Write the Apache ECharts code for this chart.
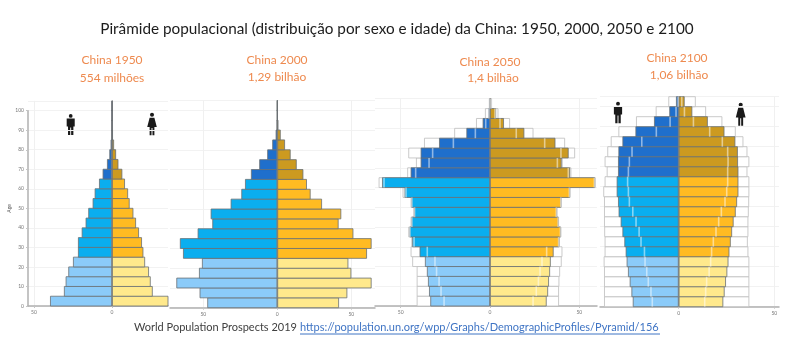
<!DOCTYPE html>
<html>
<head>
<meta charset="utf-8">
<style>
html, body { margin: 0; padding: 0; background: #fff; }
#chart { width: 800px; height: 360px; }
</style>
<script src="https://cdn.jsdelivr.net/npm/echarts@6/dist/echarts.min.js"></script>
</head>
<body>
<div id="chart"></div>
<script>
// age groups, bottom to top
var ages = ['0-4', '5-9', '10-14', '15-19', '20-24', '25-29', '30-34', '35-39', '40-44', '45-49', '50-54',
    '55-59', '60-64', '65-69', '70-74', '75-79', '80-84', '85-89', '90-94', '95-99', '100+'];

// millions of people
var male1950 = [39.7, 30.8, 29.7, 28, 25, 21.8, 21.8, 19.4, 16.9, 15.2, 12.4, 11.1, 8.3, 6, 3.2, 1.7, 0.9, 0.4, 0.2, 0, 0];
var female1950 = [36.3, 26.1, 24.8, 23.7, 21.2, 20.1, 19.2, 17.3, 15.4, 13.7, 11.3, 10.3, 8.3, 6.6, 4.1, 2.6, 1.3, 0.6, 0.2, 0, 0];

var male2000 = [47.3, 52.5, 68.2, 52.9, 50.9, 63.7, 65.8, 53.8, 43.9, 45, 31.5, 24.3, 21.8, 17.8, 12.2, 6.8, 3.4, 1.1, 0.4, 0.1, 0];
var female2000 = [41.7, 47.3, 63.7, 50, 48, 60.6, 63.7, 51.4, 41.4, 43.2, 30.2, 22.5, 20, 17.6, 13.1, 9, 5.2, 2.3, 0.7, 0.2, 0];

var male2050 = [33.4, 34.1, 34.7, 35.3, 36.4, 39.4, 43.5, 45.1, 44, 42.5, 44, 47.8, 60.4, 44.4, 38.8, 38.8, 28.5, 13.2, 4.1, 0.9, 0.4];
var female2050 = [31.7, 32.5, 33, 33.6, 34, 35.6, 38.8, 39.7, 38.4, 37.5, 39.9, 44.8, 58.8, 44.8, 40.1, 44, 36.6, 19.2, 7.8, 3.4, 0.7];
var maleHigh2050 = [41, 41, 41, 41, 43.5, 44.4, 44, 45.7, 44.4, 42.9, 44.4, 48.9, 62.3, 46.3, 41.4, 45.7, 36.9, 20, 7.8, 2.8, 0.6];
var femaleHigh2050 = [38.6, 38.6, 38.8, 39.2, 40.1, 40.5, 39, 39.9, 38.6, 37.7, 40.1, 45, 59.1, 45.5, 40.7, 47.6, 42, 24.3, 11.2, 4.7, 1.1];
var maleLow2050 = [25.7, 27.4, 28.5, 29.9, 30.8, 35.1, 42.5, 44.8, 43.7, 42.2, 43.7, 47, 59.3, 41.6, 34.1, 32.1, 20.5, 8.2, 2.4, 0.6, 0.2];
var femaleLow2050 = [24.1, 25.9, 27.1, 28, 29.1, 31.7, 38.4, 39.4, 38.1, 37.1, 39.6, 44.4, 58.4, 43.8, 37.7, 39.7, 30.6, 14.7, 5.6, 2.8, 0.6];

var male2100 = [24, 24.7, 25.6, 26.5, 27.2, 27.7, 28.4, 29.4, 30.3, 31.4, 31.7, 32.4, 32.4, 31.7, 31.7, 31.5, 29.4, 22.6, 12.9, 4.9, 1.4];
var female2100 = [23.3, 24, 24.7, 25.4, 26, 26.5, 27.2, 27.9, 28.7, 29.8, 30.5, 31.2, 31.2, 31.2, 31, 30.9, 29.6, 23.9, 15.2, 7.1, 3.1];
var maleHigh2100 = [39, 39, 39, 39, 39.2, 38.7, 38.7, 38.9, 39, 39, 39, 39.4, 38.7, 37.6, 38.7, 37.3, 35.5, 31.5, 22.3, 12, 5.4];
var femaleHigh2100 = [36.9, 36.9, 36.9, 36.9, 36.9, 36.4, 36.1, 36.4, 36.4, 36.6, 36.8, 36.9, 36.9, 35.9, 36.9, 35.9, 33.8, 29.8, 22.8, 14.3, 8.9];
var maleLow2100 = [13.8, 14.5, 15.9, 16.7, 17.6, 17.9, 19.7, 20.7, 22.3, 24, 25.8, 26.3, 26.7, 26.3, 25.8, 24.4, 19.3, 11.7, 4.5, 1.4, 0.3];
var femaleLow2100 = [13.6, 14.1, 14.6, 15.9, 16.7, 17.2, 18.1, 19.5, 20.9, 22.3, 24.2, 25.1, 25.6, 25.6, 25.8, 25.6, 22.8, 16.2, 7.7, 3, 1.6];

var xTicks = [-50, 0, 50];

var mainTitle = 'Pirâmide populacional (distribuição por sexo e idade) da China: 1950, 2000, 2050 e 2100';
var panelNames = ['China 1950', 'China 2000', 'China 2050', 'China 2100'];
var panelTotals = ['554 milhões', '1,29 bilhão', '1,4 bilhão', '1,06 bilhão'];
var sourceText = 'World Population Prospects 2019';
var sourceLink = 'https://population.un.org/wpp/Graphs/DemographicProfiles/Pyramid/156';

// pixel layout of each pyramid: zero line, px per million, axis ends, baseline, row height
var panels = [
    { male: male1950, female: female1950, zero: 112, scale: 1.56, left: 28, right: 168, base: 306, row: 9.77 },
    { male: male2000, female: female2000, zero: 277.3, scale: 1.48, left: 170, right: 375, base: 307.7, row: 9.87 },
    { male: male2050, female: female2050, maleHigh: maleHigh2050, femaleHigh: femaleHigh2050, maleLow: maleLow2050, femaleLow: femaleLow2050,
        zero: 490, scale: 1.787, left: 375, right: 597, base: 306, row: 9.87 },
    { male: male2100, female: female2100, maleHigh: maleHigh2100, femaleHigh: femaleHigh2100, maleLow: maleLow2100, femaleLow: femaleLow2100,
        zero: 678.7, scale: 1.913, left: 600, right: 779, base: 306.7, row: 10 }
];

var maleColors = ['#8bcbf9', '#0aaeef', '#1f6fcc'];
var femaleColors = ['#ffe98c', '#ffbb22', '#cc9a20'];

// 0-24 light, 25-64 bright, 65+ dark
function band(i) {
    return i < 5 ? 0 : (i < 13 ? 1 : 2);
}

function markRect(params, api) {
    var p = api.coord([api.value(0), api.value(1)]);
    var size = api.size([0, 1]);
    return {
        type: 'rect',
        shape: { x: p[0] - 0.8, y: p[1] - size[1] / 2, width: 1.6, height: size[1] },
        style: { fill: 'rgba(255,255,255,0.5)' }
    };
}

// bars are a bit wider than the row so neighbouring borders fall on one line
function barSeries(name, idx, values, sign, colors, row) {
    return {
        name: name,
        type: 'bar',
        xAxisIndex: idx,
        yAxisIndex: idx,
        barWidth: row + 0.8,
        barGap: '-100%',
        z: 3,
        data: values.map(function (v) { return sign * v; }),
        itemStyle: {
            borderColor: '#6a7073',
            borderWidth: 0.8,
            color: function (p) { return colors[band(p.dataIndex)]; }
        }
    };
}

function highSeries(name, idx, values, sign, row) {
    return {
        name: name,
        type: 'bar',
        xAxisIndex: idx,
        yAxisIndex: idx,
        barWidth: row + 0.8,
        barGap: '-100%',
        z: 2,
        data: values.map(function (v) { return sign * v; }),
        itemStyle: { color: '#fff', borderColor: '#bdbdbd', borderWidth: 0.8 }
    };
}

function lowSeries(name, idx, values, sign) {
    return {
        name: name,
        type: 'custom',
        xAxisIndex: idx,
        yAxisIndex: idx,
        z: 4,
        encode: { x: 0, y: 1 },
        renderItem: markRect,
        data: values.map(function (v, i) { return [sign * v, i]; })
    };
}

var grids = [], xAxes = [], yAxes = [], series = [];

panels.forEach(function (pn, idx) {
    grids.push({
        left: pn.left,
        width: pn.right - pn.left,
        top: pn.base - ages.length * pn.row,
        height: ages.length * pn.row
    });
    xAxes.push({
        gridIndex: idx,
        type: 'value',
        min: (pn.left - pn.zero) / pn.scale,
        max: (pn.right - pn.zero) / pn.scale,
        axisLine: { show: true, onZero: false, lineStyle: { color: '#b0b0b0', width: 1.5 } },
        axisTick: { show: true, length: 2, lineStyle: { color: '#c4c4c4' }, customValues: xTicks },
        axisLabel: {
            fontSize: 5, color: '#777', margin: 4, fontFamily: 'Lato', customValues: xTicks,
            formatter: function (v) { return Math.abs(v); }
        },
        splitLine: { show: true, lineStyle: { color: '#f0f0f0' } }
    });
    yAxes.push({
        gridIndex: idx,
        type: 'category',
        data: ages,
        axisLine: { show: true, onZero: true, lineStyle: { color: '#a8a8a8' } },
        axisTick: { show: false },
        axisLabel: { show: false },
        splitLine: { show: true, interval: 1, lineStyle: { color: '#f2f2f2' } }
    });
    if (pn.maleHigh) {
        series.push(highSeries('Homens alta', idx, pn.maleHigh, -1, pn.row));
        series.push(highSeries('Mulheres alta', idx, pn.femaleHigh, 1, pn.row));
    }
    series.push(barSeries('Homens', idx, pn.male, -1, maleColors, pn.row));
    series.push(barSeries('Mulheres', idx, pn.female, 1, femaleColors, pn.row));
    if (pn.maleLow) {
        series.push(lowSeries('Homens baixa', idx, pn.maleLow, -1));
        series.push(lowSeries('Mulheres baixa', idx, pn.femaleLow, 1));
    }
});

// age scale, only on the left of the first pyramid
grids.push({ left: 28, width: 140, top: 110.7, height: 195.3 });
xAxes.push({ gridIndex: 4, type: 'value', show: false, min: 0, max: 1 });
yAxes.push({
    gridIndex: 4,
    type: 'value',
    min: 0,
    max: 100,
    interval: 10,
    name: 'Age',
    nameLocation: 'middle',
    nameGap: 16,
    nameTextStyle: { fontSize: 5, color: '#555', fontFamily: 'Lato' },
    axisLine: { show: true, lineStyle: { color: '#b0b0b0', width: 1.5 } },
    axisTick: { show: true, length: 2, lineStyle: { color: '#c4c4c4' } },
    axisLabel: { fontSize: 5, color: '#777', margin: 4, fontFamily: 'Lato' },
    splitLine: { show: false }
});

function label(text, x, y, size, color, align) {
    return {
        text: text,
        left: x,
        top: y,
        textAlign: align,
        textVerticalAlign: 'middle',
        padding: 0,
        textStyle: { fontFamily: 'Lato', fontWeight: 'normal', fontSize: size, color: color }
    };
}

var orange = '#ee8a4f';
var titles = [
    label(mainTitle, 397, 29, 15.3, '#1c1c1c', 'center'),
    label(panelNames[0], 112, 60, 12, orange, 'center'),
    label(panelTotals[0], 112, 78, 12, orange, 'center'),
    label(panelNames[1], 277, 60, 12, orange, 'center'),
    label(panelTotals[1], 277, 77, 12, orange, 'center'),
    label(panelNames[2], 490, 62, 12, orange, 'center'),
    label(panelTotals[2], 493, 78, 12, orange, 'center'),
    label(panelNames[3], 677, 58, 12, orange, 'center'),
    label(panelTotals[3], 679, 75, 12, orange, 'center'),
    label(sourceText, 134, 327, 11, '#404040', 'left'),
    label(sourceLink, 300, 327, 11, '#3f74c4', 'left')
];

// pictograms: head plus body outline, unit box 20 x 50
var manBody = [[1, 11], [19, 11], [19, 30], [16, 30], [16, 50], [11, 50], [11, 32], [9, 32], [9, 50], [4, 50], [4, 30], [1, 30]];
var womanBody = [[5, 11], [15, 11], [20, 32], [15, 32], [15, 50], [11, 50], [11, 34], [9, 34], [9, 50], [5, 50], [5, 32], [0, 32]];

function icon(body, x, y, h) {
    var k = h / 50;
    var kx = k * 0.85 * 1.25;
    return {
        type: 'group',
        x: x - 10 * kx,
        y: y,
        children: [
            { type: 'circle', shape: { cx: 10 * kx, cy: 4.5 * k, r: 4.5 * k }, style: { fill: '#1a1a1a' } },
            {
                type: 'polygon',
                shape: { points: body.map(function (b) { return [b[0] * kx, b[1] * k]; }) },
                style: { fill: '#1a1a1a' }
            }
        ]
    };
}

var myChart = echarts.init(document.getElementById('chart'));
var option = {
    animation: false,
    backgroundColor: '#fff',
    title: titles,
    grid: grids,
    xAxis: xAxes,
    yAxis: yAxes,
    series: series,
    graphic: [
        icon(manBody, 70.7, 114, 21),
        icon(womanBody, 152, 112.7, 22.5),
        icon(manBody, 618, 101.7, 21.5),
        icon(womanBody, 740.7, 102.7, 23),
        {
            type: 'line',
            shape: { x1: 300, y1: 334, x2: 660, y2: 334 },
            style: { stroke: '#3f74c4', lineWidth: 1 }
        }
    ]
};
myChart.setOption(option);
</script>
</body>
</html>
